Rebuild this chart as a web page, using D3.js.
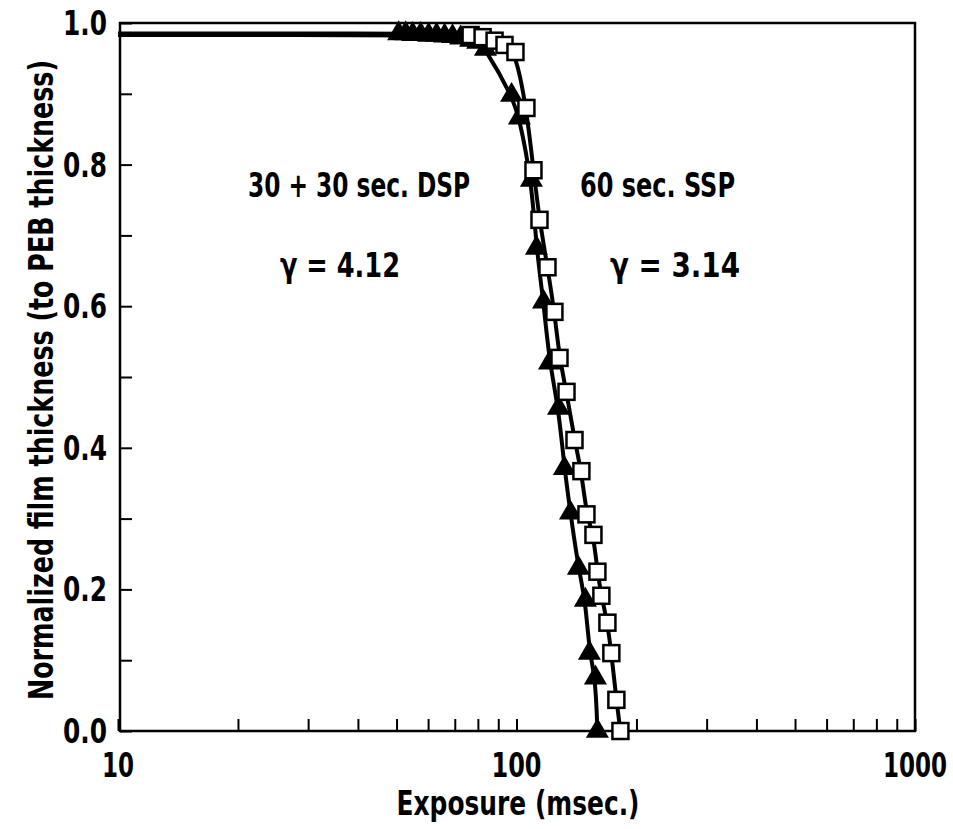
<!DOCTYPE html>
<html>
<head>
<meta charset="utf-8">
<script src="https://cdn.jsdelivr.net/npm/d3@7"></script>
<style>
body { margin: 0; background: #fff; }
text { font-family: "Liberation Sans Narrow", "DejaVu Sans Condensed", "DejaVu Sans", sans-serif; font-stretch: condensed; font-weight: bold; fill: #000; }
</style>
</head>
<body>
<script>
// DSP (30 + 30 sec.) - filled triangles
var dspExposure = [50.6, 52.7, 54.9, 57.5, 60.2, 63.0, 66.0, 69.1, 72.4, 76.7, 79.9, 83.6,
  97.2, 101.7, 109.0, 112.2, 116.9, 121.0, 127.5, 131.9, 136.6, 143.0, 148.9, 152.4, 157.8, 159.6];
var dspThickness = [0.985, 0.985, 0.984, 0.984, 0.983, 0.983, 0.982, 0.981, 0.979, 0.976, 0.973, 0.963,
  0.898, 0.866, 0.778, 0.682, 0.606, 0.520, 0.456, 0.371, 0.308, 0.230, 0.185, 0.110, 0.075, 0.0];
// SSP (60 sec.) - open squares
var sspExposure = [76.7, 82.2, 88.1, 93.3, 99.4, 105.9, 110.3, 114.2, 119.6, 124.5, 128.2, 133.5,
  139.8, 145.5, 149.8, 156.0, 159.6, 163.3, 169.1, 173.0, 178.1, 182.3];
var sspThickness = [0.983, 0.980, 0.975, 0.969, 0.959, 0.880, 0.792, 0.722, 0.655, 0.592, 0.527, 0.479,
  0.411, 0.367, 0.306, 0.277, 0.225, 0.191, 0.153, 0.110, 0.044, 0.0];
// both curves start flat from the left edge of the plot
var lineStart = 10;

var xMinor = [20, 30, 40, 50, 60, 70, 80, 90, 200, 300, 400, 500, 600, 700, 800, 900];
var xMajor = [10, 100, 1000];
var xLabelWidth = [32, 50, 64];
var yTicks = [0, 0.1, 0.2, 0.3, 0.4, 0.5, 0.6, 0.7, 0.8, 0.9, 1.0];
var yLabels = [0, 0.2, 0.4, 0.6, 0.8, 1.0];

var W = 953, H = 829;
var plotL = 120, plotR = 915, plotT = 23, plotB = 731;

var svg = d3.select("body").append("svg").attr("width", W).attr("height", H);

var x = d3.scaleLog().domain([10, 1000]).range([118, plotR]);
var y = d3.scaleLinear().domain([0, 1]).range([plotB, plotT]);

// frame
svg.append("rect").attr("x", plotL).attr("y", plotT)
  .attr("width", plotR - plotL).attr("height", plotB - plotT)
  .attr("fill", "none").attr("stroke", "#000").attr("stroke-width", 2.5);

// x ticks (inward)
var xAxis = d3.axisBottom(x).tickValues(xMinor.concat(xMajor)).tickSize(-12).tickFormat("");
var gx = svg.append("g").attr("transform", "translate(0," + plotB + ")").call(xAxis);
gx.select(".domain").remove();
gx.selectAll("line").attr("stroke-width", 2);

svg.selectAll(".xlab").data(xMajor).enter().append("text")
  .attr("class", "xlab")
  .attr("x", function(d){ return x(d); })
  .attr("y", 777)
  .attr("text-anchor", "middle")
  .attr("textLength", function(d, i){ return xLabelWidth[i]; })
  .attr("lengthAdjust", "spacingAndGlyphs")
  .style("font-size", "34px")
  .text(function(d){ return d; });

// y ticks (inward)
var yAxis = d3.axisLeft(y).tickValues(yTicks).tickSize(-12).tickFormat("");
var gy = svg.append("g").attr("transform", "translate(" + plotL + ",0)").call(yAxis);
gy.select(".domain").remove();
gy.selectAll("line").attr("stroke-width", 2);

svg.selectAll(".ylab").data(yLabels).enter().append("text")
  .attr("class", "ylab")
  .attr("x", 107)
  .attr("y", function(d){ return y(d) + 12; })
  .attr("text-anchor", "end")
  .attr("textLength", 44)
  .attr("lengthAdjust", "spacingAndGlyphs")
  .style("font-size", "34px")
  .text(function(d){ return d3.format(".1f")(d); });

// axis titles
svg.append("text").attr("x", 518).attr("y", 815).attr("text-anchor", "middle")
  .attr("textLength", 243).attr("lengthAdjust", "spacingAndGlyphs")
  .style("font-size", "34px").text("Exposure (msec.)");
svg.append("text").attr("transform", "translate(53,380) rotate(-90)").attr("text-anchor", "middle")
  .attr("textLength", 640).attr("lengthAdjust", "spacingAndGlyphs")
  .style("font-size", "34px").text("Normalized film thickness (to PEB thickness)");

// curves
var line = d3.line()
  .x(function(d){ return x(d[0]); })
  .y(function(d){ return y(d[1]); })
  .curve(d3.curveBasis);

function pts(xs, ys){
  var p = [[lineStart, ys[0]]];
  for (var i = 0; i < xs.length; i++) p.push([xs[i], ys[i]]);
  return p;
}

svg.append("path").attr("d", line(pts(sspExposure, sspThickness)))
  .attr("fill", "none").attr("stroke", "#000").attr("stroke-width", 4);
svg.append("path").attr("d", line(pts(dspExposure, dspThickness)))
  .attr("fill", "none").attr("stroke", "#000").attr("stroke-width", 4);

// triangles
var tri = d3.symbol().type(d3.symbolTriangle).size(230);
svg.selectAll(".tri").data(d3.range(dspExposure.length)).enter().append("path")
  .attr("class", "tri")
  .attr("d", tri)
  .attr("transform", function(i){ return "translate(" + x(dspExposure[i]) + "," + y(dspThickness[i]) + ")"; })
  .attr("fill", "#000");

// squares
svg.selectAll(".sq").data(d3.range(sspExposure.length)).enter().append("rect")
  .attr("class", "sq")
  .attr("x", function(i){ return x(sspExposure[i]) - 8; })
  .attr("y", function(i){ return y(sspThickness[i]) - 8; })
  .attr("width", 16).attr("height", 16)
  .attr("fill", "#fff").attr("stroke", "#000").attr("stroke-width", 2.5);

// annotations
function note(tx, ty, len, s){
  svg.append("text").attr("x", tx).attr("y", ty)
    .attr("textLength", len).attr("lengthAdjust", "spacingAndGlyphs")
    .style("font-size", "34px").text(s);
}
note(248, 197, 222, "30 + 30 sec. DSP");
note(280, 277, 120, "\u03b3 = 4.12");
note(580, 197, 155, "60 sec. SSP");
note(610, 277, 130, "\u03b3 = 3.14");
</script>
</body>
</html>
